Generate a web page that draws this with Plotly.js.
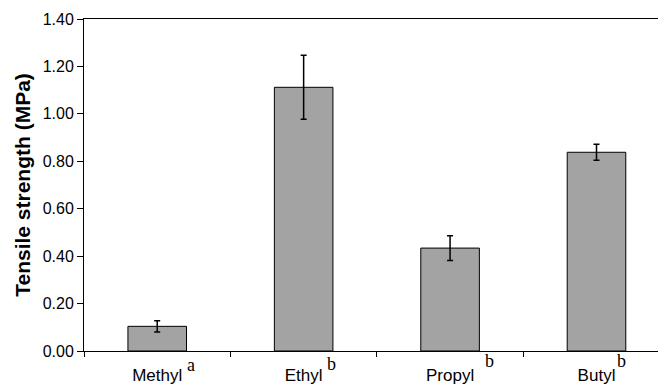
<!DOCTYPE html>
<html>
<head>
<meta charset="utf-8">
<script src="https://cdn.plot.ly/plotly-3.0.1.min.js"></script>
<style>html,body{margin:0;padding:0;background:#fff;}#chart{width:658px;height:385px;}</style>
</head>
<body>
<div id="chart"></div>
<script>
const categories = ['Methyl', 'Ethyl', 'Propyl', 'Butyl'];
const superscripts = ['a', 'b', 'b', 'b'];
const tensileStrength = [0.104, 1.112, 0.434, 0.838];
const errorValues = [0.024, 0.135, 0.052, 0.034];
const yTickValues = [0, 0.2, 0.4, 0.6, 0.8, 1.0, 1.2, 1.4];
const yTickLabels = ['0.00', '0.20', '0.40', '0.60', '0.80', '1.00', '1.20', '1.40'];

// layout-only placement of the superscript letters
const supOffsetX = [0.232, 0.188, 0.27, 0.174];
const supOffsetY = [-0.0774, -0.0744, -0.0663, -0.0672];

const trace = {
  type: 'bar',
  x: categories,
  y: tensileStrength,
  width: 0.4,
  marker: {color: '#a3a3a3', line: {color: '#000', width: 1}},
  error_y: {type: 'data', array: errorValues, visible: true, color: '#000', thickness: 1.5, width: 3},
  hoverinfo: 'none'
};

const annotations = categories.map((c, i) => ({
  xref: 'x', yref: 'paper',
  x: i + supOffsetX[i], y: supOffsetY[i],
  xanchor: 'center', yanchor: 'bottom',
  text: superscripts[i],
  showarrow: false,
  font: {family: 'Liberation Serif, Times New Roman, serif', size: 18, color: '#000'}
}));

const layout = {
  width: 658, height: 385,
  margin: {l: 84, r: 0, t: 19, b: 34},
  paper_bgcolor: '#fff', plot_bgcolor: '#fff',
  showlegend: false,
  font: {family: 'Liberation Sans, Arial, sans-serif', color: '#000'},
  xaxis: {
    type: 'category',
    range: [-0.5, 3.42],
    showline: true, linecolor: '#000', linewidth: 1, mirror: true,
    ticks: 'outside', tickson: 'boundaries', ticklen: 5, tickcolor: '#000',
    ticklabelstandoff: 9,
    showgrid: false, zeroline: false,
    tickfont: {size: 17, color: '#000'}
  },
  yaxis: {
    range: [0, 1.4],
    tickvals: yTickValues, ticktext: yTickLabels,
    showline: true, linecolor: '#000', linewidth: 1,
    ticks: 'outside', ticklen: 6, tickcolor: '#000',
    showgrid: false, zeroline: false,
    tickfont: {size: 16, color: '#000'},
    title: {text: '<b>Tensile strength (MPa)</b>', font: {size: 21, color: '#000'}, standoff: 6}
  },
  annotations: annotations
};

Plotly.newPlot('chart', [trace], layout, {staticPlot: true, displayModeBar: false});
</script>
</body>
</html>
